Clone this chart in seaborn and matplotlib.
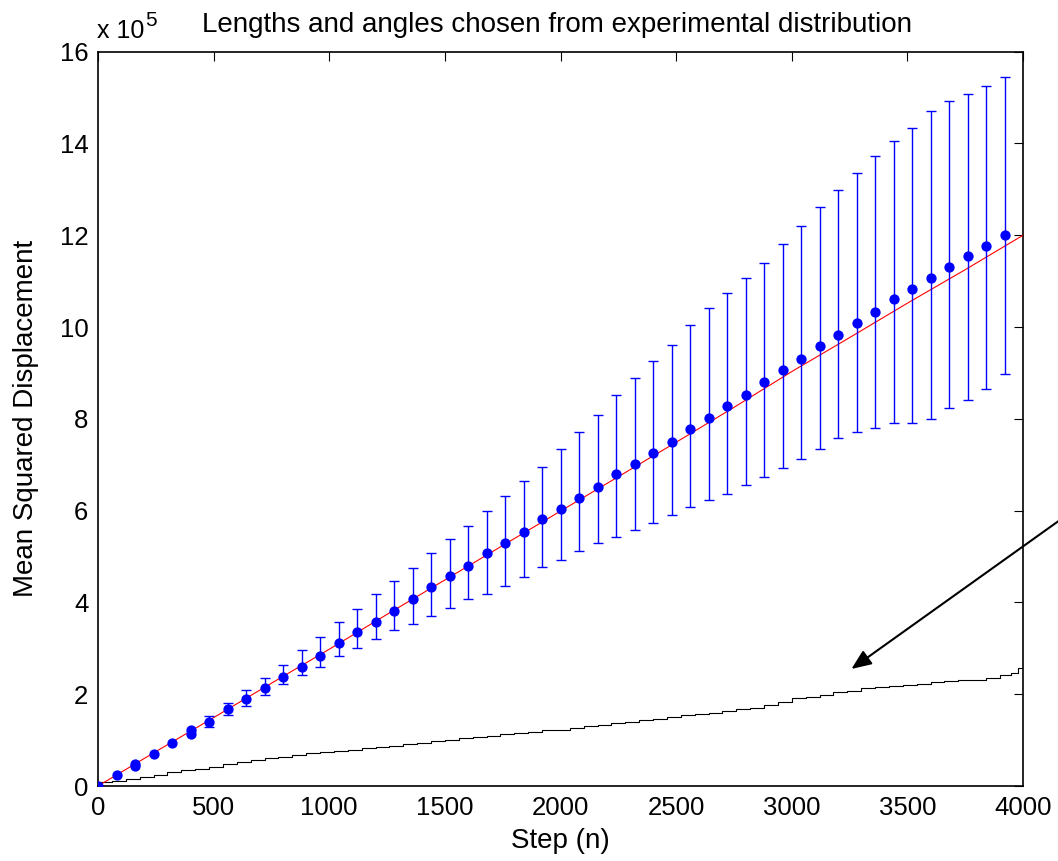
import numpy as np
import pandas as pd
import matplotlib
matplotlib.use("Agg")
import matplotlib.pyplot as plt
import seaborn as sns

# ---------------- data (y values in units of 1e5) ----------------
steps = np.arange(0, 4000, 80)
msd = [0.0, 0.23, 0.44, 0.70, 0.93, 1.14, 1.39, 1.67, 1.90, 2.14,
       2.37, 2.60, 2.84, 3.12, 3.35, 3.58, 3.81, 4.07, 4.33, 4.57,
       4.79, 5.07, 5.30, 5.54, 5.81, 6.04, 6.28, 6.51, 6.79, 7.02,
       7.25, 7.49, 7.77, 8.01, 8.28, 8.52, 8.80, 9.07, 9.31, 9.59,
       9.82, 10.09, 10.33, 10.61, 10.84, 11.07, 11.31, 11.54, 11.77, 12.01]
# duplicated dots visible at steps 160 and 400
extra_steps = [160, 400]
extra_msd = [0.48, 1.21]

# error bar ends, from step index 6 onward
err_top = [1.52, 1.80, 2.09, 2.35, 2.64, 2.97, 3.25, 3.58, 3.86, 4.19,
           4.47, 4.74, 5.07, 5.39, 5.67, 5.99, 6.32, 6.64, 6.96, 7.34,
           7.72, 8.09, 8.51, 8.88, 9.25, 9.62, 10.05, 10.42, 10.75, 11.07,
           11.40, 11.81, 12.20, 12.61, 12.98, 13.35, 13.72, 14.05, 14.33, 14.71,
           14.93, 15.08, 15.26, 15.45]
err_bot = [1.28, 1.55, 1.75, 1.99, 2.22, 2.41, 2.60, 2.83, 3.01, 3.21,
           3.39, 3.53, 3.71, 3.88, 4.07, 4.18, 4.36, 4.55, 4.78, 4.93,
           5.11, 5.30, 5.43, 5.58, 5.72, 5.91, 6.09, 6.23, 6.37, 6.56,
           6.74, 6.93, 7.12, 7.35, 7.58, 7.72, 7.81, 7.91, 7.91, 7.99,
           8.23, 8.41, 8.64, 8.98]
err_start = 6

red_x = [0, 250, 500, 750, 1000, 1250, 1500, 1750, 2000, 2250, 2500,
         2750, 3000, 3250, 3500, 3750, 4000]
red_y = [0.0, 0.75, 1.49, 2.24, 2.98, 3.74, 4.49, 5.24, 5.99, 6.74, 7.49,
         8.25, 9.03, 9.77, 10.52, 11.25, 12.0]

black_x = [0, 60, 120, 180, 240, 300, 360, 420, 480, 540, 600, 660, 720,
           780, 840, 900, 960, 1020, 1080, 1140, 1200, 1260, 1320, 1380,
           1440, 1500, 1560, 1620, 1680, 1740, 1800, 1860, 1920, 1980,
           2040, 2100, 2160, 2220, 2280, 2340, 2400, 2460, 2520, 2580,
           2640, 2700, 2760, 2820, 2880, 2940, 3000, 3060, 3120, 3180,
           3240, 3300, 3360, 3420, 3480, 3540, 3600, 3660, 3720, 3780,
           3840, 3900, 3950, 3980, 4000]
black_y = [0.09, 0.10, 0.15, 0.20, 0.25, 0.30, 0.34, 0.37, 0.42, 0.47,
           0.53, 0.56, 0.60, 0.63, 0.67, 0.71, 0.74, 0.77, 0.79, 0.82,
           0.85, 0.88, 0.91, 0.94, 0.97, 1.01, 1.04, 1.07, 1.10, 1.13,
           1.16, 1.18, 1.21, 1.23, 1.26, 1.30, 1.33, 1.37, 1.40, 1.43,
           1.47, 1.50, 1.54, 1.57, 1.60, 1.64, 1.68, 1.71, 1.76, 1.83,
           1.91, 1.95, 1.99, 2.04, 2.08, 2.13, 2.16, 2.18, 2.21, 2.23,
           2.26, 2.28, 2.30, 2.32, 2.36, 2.42, 2.47, 2.58, 2.60]

x_ticks = [0, 500, 1000, 1500, 2000, 2500, 3000, 3500, 4000]
y_ticks = [0, 2, 4, 6, 8, 10, 12, 14, 16]

title = "Lengths and angles chosen from experimental distribution"
x_label = "Step (n)"
y_label = "Mean Squared Displacement"

# arrow: head and tail (data units)
arrow_head = (3258, 2.55)
arrow_tail = (4250, 6.12)

# ---------------- plot ----------------
sns.set_style("white")
plt.rcParams["font.family"] = ["Liberation Sans", "DejaVu Sans"]
plt.rcParams["text.color"] = "black"
plt.rcParams["axes.labelcolor"] = "black"
plt.rcParams["xtick.color"] = "black"
plt.rcParams["ytick.color"] = "black"

W, H = 1058, 861
fig = plt.figure(figsize=(W / 100, H / 100), dpi=100)
L, R, T, B = 98, 1023, 51.7, 786
ax = fig.add_axes([L / W, 1 - B / H, (R - L) / W, (B - T) / H])

df_black = pd.DataFrame({"x": black_x, "y": black_y})
sns.lineplot(data=df_black, x="x", y="y", ax=ax, color="black", lw=0.8,
             drawstyle="steps-post", estimator=None, sort=False, zorder=2)

df_red = pd.DataFrame({"x": red_x, "y": red_y})
sns.lineplot(data=df_red, x="x", y="y", ax=ax, color="red", lw=0.8,
             estimator=None, sort=False, zorder=3)

msd_arr = np.array(msd)
ex = steps[err_start:]
ey = msd_arr[err_start:]
lower = ey - np.array(err_bot)
upper = np.array(err_top) - ey
ax.errorbar(ex, ey, yerr=[lower, upper], fmt="none", ecolor="blue",
            elinewidth=1.0, capsize=3.6, capthick=1.0, zorder=3)

df_pts = pd.DataFrame({"x": np.concatenate([steps, extra_steps]),
                       "y": np.concatenate([msd_arr, extra_msd])})
sns.scatterplot(data=df_pts, x="x", y="y", ax=ax, color="blue", s=55,
                linewidth=0, zorder=4)

ax.annotate("", xy=arrow_head, xytext=arrow_tail, annotation_clip=False,
            arrowprops=dict(arrowstyle="-|>,head_length=0.6,head_width=0.25",
                            color="black", lw=1.5, mutation_scale=20,
                            shrinkA=0, shrinkB=0))

ax.set_xlim(0, 4000)
ax.set_ylim(0, 16)
ax.set_xticks(x_ticks)
ax.set_yticks(y_ticks)
ax.set_xticklabels([str(v) for v in x_ticks])
ax.set_yticklabels([str(v) for v in y_ticks])
ax.tick_params(direction="in", top=True, right=True, length=6.5, width=0.8,
               labelsize=18.5, pad=7, colors="black")
for s in ax.spines.values():
    s.set_visible(True)
    s.set_color("black")
    s.set_linewidth(1.2)

ax.set_xlabel(x_label, fontsize=20, color="black")
ax.set_ylabel(y_label, fontsize=20, color="black")
ax.xaxis.set_label_coords(0.5, (B - 828) / (B - T))
ax.yaxis.set_label_coords((39 - L) / (R - L), 0.5)

fig.text(557 / W, 1 - 31.5 / H, title, fontsize=20, ha="center", va="baseline",
         color="black")
fig.text(97 / W, 1 - 38.3 / H, "x 10", fontsize=18, ha="left", va="baseline",
         color="black")
fig.text(145 / W, 1 - 26 / H, "5", fontsize=15, ha="left", va="baseline",
         color="black")

fig.savefig("out.png", dpi=100)
